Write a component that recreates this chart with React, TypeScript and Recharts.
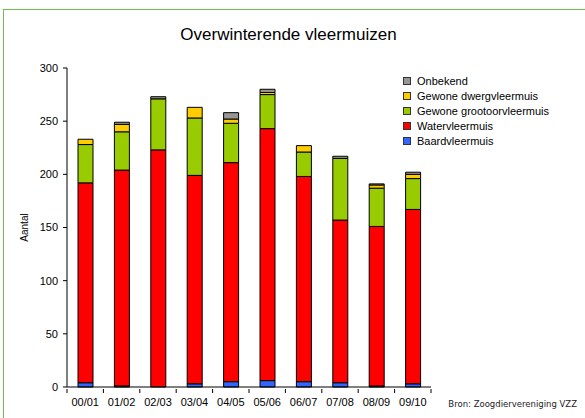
import { BarChart, Bar, XAxis, YAxis } from "recharts"

const seasons = ["00/01", "01/02", "02/03", "03/04", "04/05", "05/06", "06/07", "07/08", "08/09", "09/10"]
const baardvleermuis = [4, 1, 0, 3, 5, 6, 5, 4, 1, 3]
const watervleermuis = [188, 203, 223, 196, 206, 237, 193, 153, 150, 164]
const grootoorvleermuis = [36, 36, 48, 54, 37, 32, 23, 58, 36, 29]
const dwergvleermuis = [5, 7, 0, 10, 4, 2, 6, 0, 3, 4]
const onbekend = [0, 2, 2, 0, 6, 3, 0, 2, 1, 2]
const yTicks = [0, 50, 100, 150, 200, 250, 300]

const series = [
  { key: "baard", name: "Baardvleermuis", color: "#3366ff", values: baardvleermuis },
  { key: "water", name: "Watervleermuis", color: "#ff0000", values: watervleermuis },
  { key: "grootoor", name: "Gewone grootoorvleermuis", color: "#99cc00", values: grootoorvleermuis },
  { key: "dwerg", name: "Gewone dwergvleermuis", color: "#ffcc00", values: dwergvleermuis },
  { key: "onbekend", name: "Onbekend", color: "#969696", values: onbekend },
]

const data = seasons.map((season, i) => {
  const row: Record<string, string | number> = { season }
  series.forEach((s) => (row[s.key] = s.values[i]))
  return row
})

const font = "'Liberation Sans', Arial, sans-serif"

function SeasonTick(props: any) {
  const { x, y, payload, index, width } = props
  const band = (width || 364) / seasons.length
  const left = x - band / 2
  const right = x + band / 2
  return (
    <g>
      <line x1={left} x2={left} y1={y - 4} y2={y} stroke="#000" />
      {index === seasons.length - 1 && <line x1={right} x2={right} y1={y - 4} y2={y} stroke="#000" />}
      <text x={x} y={y + 13} textAnchor="middle" fontSize={11} fill="#000" fontFamily={font}>
        {payload.value}
      </text>
    </g>
  )
}

function LegendBox() {
  return (
    <div style={{ fontFamily: font, fontSize: 11, color: "#000" }}>
      {[...series].reverse().map((s) => (
        <div key={s.key} style={{ display: "flex", alignItems: "center", height: 15 }}>
          <span
            style={{
              display: "inline-block",
              width: 6,
              height: 6,
              background: s.color,
              border: "1px solid #333",
              marginRight: 6,
            }}
          />
          {s.name}
        </div>
      ))}
    </div>
  )
}

export default function App() {
  return (
    <div style={{ position: "fixed", left: 0, top: 0, width: 585, height: 418, background: "#fff", overflow: "hidden" }}>
      <div
        style={{
          position: "absolute",
          left: 3,
          top: 9,
          width: 620,
          height: 440,
          borderLeft: "1.5px solid #70c050",
          borderTop: "1.5px solid #70c050",
        }}
      />
      <div
        style={{
          position: "absolute",
          left: 0,
          width: 577,
          top: 25,
          textAlign: "center",
          fontFamily: font,
          fontSize: 17,
          color: "#000",
        }}
      >
        Overwinterende vleermuizen
      </div>
      <div style={{ position: "absolute", left: 403, top: 73 }}>
        <LegendBox />
      </div>
      <div
        style={{
          position: "absolute",
          right: 8,
          top: 399,
          fontFamily: "'DejaVu Sans', sans-serif",
          fontSize: 8.5,
          color: "#222",
        }}
      >
        Bron: Zoogdiervereniging VZZ
      </div>
      <div style={{ position: "absolute", left: 0, top: 0 }}>
        <BarChart
          width={585}
          height={418}
          data={data}
          margin={{ top: 68, right: 154, bottom: 11, left: 0 }}
          barSize={15}
        >
          <XAxis
            dataKey="season"
            tickLine={false}
            tickSize={4}
            tick={<SeasonTick />}
            axisLine={{ stroke: "#000" }}
            height={20}
            interval={0}
          />
          <YAxis
            domain={[0, 300]}
            ticks={yTicks}
            width={67}
            tickSize={4}
            tickMargin={5}
            axisLine={{ stroke: "#000" }}
            tickLine={{ stroke: "#000" }}
            tick={{ fontSize: 11, fill: "#000", fontFamily: font }}
            label={{
              value: "Aantal",
              angle: -90,
              position: "insideLeft",
              offset: 24,
              style: { fontSize: 10, fill: "#000", fontFamily: font, textAnchor: "middle" },
            }}
          />
          {series.map((s) => (
            <Bar
              key={s.key}
              dataKey={s.key}
              name={s.name}
              stackId="a"
              fill={s.color}
              stroke="#000"
              strokeWidth={1}
              isAnimationActive={false}
            />
          ))}
        </BarChart>
      </div>
    </div>
  )
}
